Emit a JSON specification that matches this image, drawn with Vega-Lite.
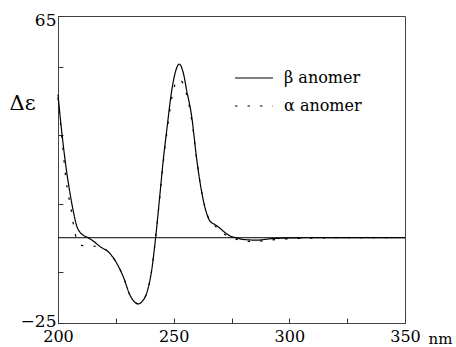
{
  "$schema": "https://vega.github.io/schema/vega-lite/v6.json",
  "width": 347,
  "height": 307,
  "autosize": "none",
  "padding": {"left": 58, "top": 16, "right": 51, "bottom": 24},
  "background": "white",
  "config": {
    "font": "DejaVu Serif",
    "view": {"stroke": "#444", "strokeWidth": 1},
    "axis": {"labelFont": "DejaVu Serif", "titleFont": "DejaVu Serif"},
    "legend": {"labelFont": "DejaVu Serif", "titleFont": "DejaVu Serif"}
  },
  "datasets": {
    "cd": [
      {"nm": 200, "de": 42, "series": "β anomer"},
      {"nm": 201, "de": 35, "series": "β anomer"},
      {"nm": 202.3, "de": 27, "series": "β anomer"},
      {"nm": 203.5, "de": 20.5, "series": "β anomer"},
      {"nm": 205.2, "de": 13, "series": "β anomer"},
      {"nm": 206.6, "de": 7.8, "series": "β anomer"},
      {"nm": 208.1, "de": 3.4, "series": "β anomer"},
      {"nm": 209.5, "de": 1.6, "series": "β anomer"},
      {"nm": 211, "de": 0.7, "series": "β anomer"},
      {"nm": 213, "de": 0.0, "series": "β anomer"},
      {"nm": 215.5, "de": -1.1, "series": "β anomer"},
      {"nm": 218.2, "de": -2.6, "series": "β anomer"},
      {"nm": 222, "de": -4.3, "series": "β anomer"},
      {"nm": 225.4, "de": -7.5, "series": "β anomer"},
      {"nm": 228.2, "de": -11.4, "series": "β anomer"},
      {"nm": 231.1, "de": -16.8, "series": "β anomer"},
      {"nm": 233.2, "de": -18.9, "series": "β anomer"},
      {"nm": 234.7, "de": -19.4, "series": "β anomer"},
      {"nm": 236.5, "de": -18.6, "series": "β anomer"},
      {"nm": 238.3, "de": -16.3, "series": "β anomer"},
      {"nm": 240.5, "de": -9.5, "series": "β anomer"},
      {"nm": 242.2, "de": 0, "series": "β anomer"},
      {"nm": 244.1, "de": 13, "series": "β anomer"},
      {"nm": 245.5, "de": 22.8, "series": "β anomer"},
      {"nm": 247, "de": 31.5, "series": "β anomer"},
      {"nm": 249.2, "de": 43.3, "series": "β anomer"},
      {"nm": 250.6, "de": 48.2, "series": "β anomer"},
      {"nm": 252.4, "de": 50.9, "series": "β anomer"},
      {"nm": 254.2, "de": 48.2, "series": "β anomer"},
      {"nm": 255.6, "de": 43.3, "series": "β anomer"},
      {"nm": 257.8, "de": 35.5, "series": "β anomer"},
      {"nm": 260, "de": 22.8, "series": "β anomer"},
      {"nm": 262.8, "de": 11, "series": "β anomer"},
      {"nm": 265.7, "de": 4.9, "series": "β anomer"},
      {"nm": 268, "de": 3.8, "series": "β anomer"},
      {"nm": 270, "de": 2.8, "series": "β anomer"},
      {"nm": 272, "de": 1.6, "series": "β anomer"},
      {"nm": 274.4, "de": 0.5, "series": "β anomer"},
      {"nm": 277, "de": 0, "series": "β anomer"},
      {"nm": 280, "de": -0.5, "series": "β anomer"},
      {"nm": 286, "de": -0.7, "series": "β anomer"},
      {"nm": 292, "de": -0.3, "series": "β anomer"},
      {"nm": 299, "de": -0.1, "series": "β anomer"},
      {"nm": 310, "de": 0, "series": "β anomer"},
      {"nm": 350, "de": 0, "series": "β anomer"},

      {"nm": 200, "de": 41, "series": "α anomer"},
      {"nm": 202, "de": 27, "series": "α anomer"},
      {"nm": 203.3, "de": 18, "series": "α anomer"},
      {"nm": 204.5, "de": 12.5, "series": "α anomer"},
      {"nm": 205.5, "de": 9, "series": "α anomer"},
      {"nm": 206.5, "de": 4.5, "series": "α anomer"},
      {"nm": 207.5, "de": 1, "series": "α anomer"},
      {"nm": 208.5, "de": -1, "series": "α anomer"},
      {"nm": 210.5, "de": -2.3, "series": "α anomer"},
      {"nm": 213.5, "de": -2.5, "series": "α anomer"},
      {"nm": 216.5, "de": -2.5, "series": "α anomer"},
      {"nm": 219, "de": -3, "series": "α anomer"},
      {"nm": 222, "de": -4.3, "series": "α anomer"},
      {"nm": 225.4, "de": -7.5, "series": "α anomer"},
      {"nm": 228.2, "de": -11.4, "series": "α anomer"},
      {"nm": 231.1, "de": -16.8, "series": "α anomer"},
      {"nm": 233.2, "de": -18.9, "series": "α anomer"},
      {"nm": 234.7, "de": -19.4, "series": "α anomer"},
      {"nm": 236.5, "de": -18.6, "series": "α anomer"},
      {"nm": 238.3, "de": -16.3, "series": "α anomer"},
      {"nm": 240.5, "de": -9.5, "series": "α anomer"},
      {"nm": 242.2, "de": 0, "series": "α anomer"},
      {"nm": 244.1, "de": 12.5, "series": "α anomer"},
      {"nm": 245.5, "de": 22, "series": "α anomer"},
      {"nm": 247, "de": 30.5, "series": "α anomer"},
      {"nm": 249.2, "de": 41, "series": "α anomer"},
      {"nm": 250.8, "de": 45.3, "series": "α anomer"},
      {"nm": 252.4, "de": 46.4, "series": "α anomer"},
      {"nm": 254, "de": 45.3, "series": "α anomer"},
      {"nm": 255.6, "de": 42, "series": "α anomer"},
      {"nm": 257.8, "de": 34.5, "series": "α anomer"},
      {"nm": 260, "de": 22.8, "series": "α anomer"},
      {"nm": 262.8, "de": 11, "series": "α anomer"},
      {"nm": 265.7, "de": 4.9, "series": "α anomer"},
      {"nm": 268, "de": 3.4, "series": "α anomer"},
      {"nm": 270, "de": 2, "series": "α anomer"},
      {"nm": 272.5, "de": 0.8, "series": "α anomer"},
      {"nm": 275, "de": 0.1, "series": "α anomer"},
      {"nm": 278, "de": -0.6, "series": "α anomer"},
      {"nm": 281, "de": -1.0, "series": "α anomer"},
      {"nm": 285, "de": -1.1, "series": "α anomer"},
      {"nm": 290, "de": -0.8, "series": "α anomer"},
      {"nm": 295, "de": -0.5, "series": "α anomer"},
      {"nm": 300, "de": -0.3, "series": "α anomer"},
      {"nm": 310, "de": -0.1, "series": "α anomer"},
      {"nm": 320, "de": 0, "series": "α anomer"},
      {"nm": 346, "de": 0, "series": "α anomer"}
    ]
  },
  "layer": [
    {
      "data": {"values": [{"z": 0}]},
      "mark": {"type": "rule", "color": "black", "strokeWidth": 1},
      "encoding": {"y": {"field": "z", "type": "quantitative"}}
    },
    {
      "data": {"name": "cd"},
      "mark": {"type": "line", "interpolate": "monotone", "strokeWidth": 1.2, "color": "black"},
      "encoding": {
        "x": {
          "field": "nm", "type": "quantitative",
          "scale": {"domain": [200, 350], "nice": false, "zero": false},
          "axis": {
            "values": [200, 225, 250, 275, 300, 325, 350],
            "labelExpr": "datum.value % 50 == 0 ? datum.label : ''",
            "labelOverlap": false,
            "domain": false, "grid": false,
            "tickSize": -5, "tickColor": "#333",
            "labelFontSize": 16, "labelColor": "black", "labelPadding": 10,
            "labelFlush": false,
            "title": "nm", "titleFontSize": 15, "titleFontWeight": "normal", "titleColor": "black",
            "titleX": 370, "titleY": 20, "titleAlign": "left", "titleBaseline": "alphabetic", "titleAnchor": null
          }
        },
        "y": {
          "field": "de", "type": "quantitative",
          "scale": {"domain": [-25, 65], "nice": false, "zero": false},
          "axis": {
            "values": [-25, -20, -10, 0, 10, 20, 30, 40, 50, 60, 65],
            "labelExpr": "datum.value == 65 || datum.value == 0 || datum.value == -25 ? datum.label : ''",
            "labelOverlap": false,
            "domain": false, "grid": false,
            "tickSize": -5, "tickColor": "#333",
            "labelFontSize": 17, "labelColor": "black", "labelPadding": 7,
            "labelFlush": false,
            "labelOffset": {"condition": [{"test": "datum.value == 65", "value": 4}, {"test": "datum.value == -25", "value": -2}], "value": 0},
            "title": "Δε", "titleFontSize": 21, "titleFontWeight": "normal", "titleColor": "black",
            "titleAngle": 0, "titleX": -36, "titleY": 87, "titleAlign": "center", "titleBaseline": "middle"
          }
        },
        "strokeDash": {
          "field": "series", "type": "nominal",
          "scale": {"domain": ["β anomer", "α anomer"], "range": [[1, 0], [2.5, 10]]},
          "legend": {
            "title": null, "orient": "none", "legendX": 176, "legendY": 42,
            "symbolType": "stroke", "symbolSize": 1444, "symbolStrokeWidth": 1.2,
            "symbolStrokeColor": "black",
            "labelFontSize": 16, "labelColor": "black", "labelOffset": 10,
            "rowPadding": -4
          }
        }
      }
    }
  ]
}
